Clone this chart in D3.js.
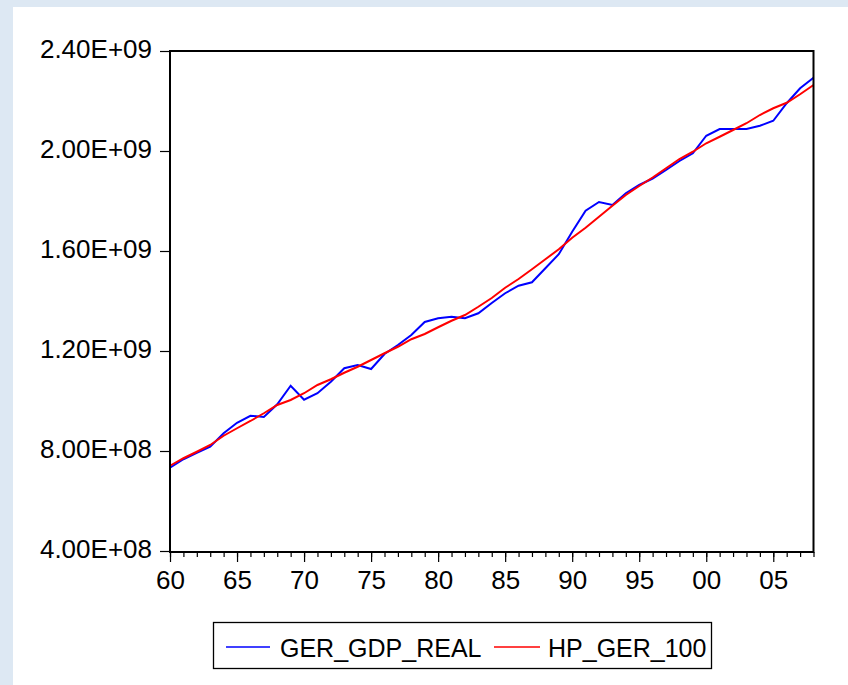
<!DOCTYPE html>
<html>
<head>
<meta charset="utf-8">
<script src="https://cdn.jsdelivr.net/npm/d3@7"></script>
<style>
  html, body { margin: 0; padding: 0; background: #dde8f3; }
  svg { display: block; }
  text { font-family: "Liberation Sans", Arial, sans-serif; fill: #000; }
</style>
</head>
<body>
<svg id="chart" width="848" height="685"></svg>
<script>
const years = d3.range(1960, 2009);
const gdpReal = [
  7.33e8, 7.67e8, 7.93e8, 8.17e8, 8.71e8, 9.13e8, 9.41e8, 9.36e8, 9.87e8, 10.61e8,
  10.05e8, 10.31e8, 10.77e8, 11.31e8, 11.44e8, 11.28e8, 11.88e8, 12.24e8, 12.64e8, 13.16e8,
  13.31e8, 13.37e8, 13.31e8, 13.51e8, 13.92e8, 14.31e8, 14.61e8, 14.75e8, 15.31e8, 15.87e8,
  16.77e8, 17.61e8, 17.96e8, 17.84e8, 18.31e8, 18.64e8, 18.90e8, 19.24e8, 19.60e8, 19.91e8,
  20.61e8, 20.88e8, 20.88e8, 20.88e8, 21.01e8, 21.21e8, 21.91e8, 22.51e8, 22.93e8
];
const hpTrend = [
  7.41e8, 7.71e8, 7.97e8, 8.24e8, 8.61e8, 8.91e8, 9.20e8, 9.51e8, 9.84e8, 10.04e8,
  10.31e8, 10.64e8, 10.87e8, 11.13e8, 11.37e8, 11.64e8, 11.91e8, 12.17e8, 12.47e8, 12.68e8,
  12.95e8, 13.21e8, 13.44e8, 13.77e8, 14.12e8, 14.53e8, 14.88e8, 15.27e8, 15.67e8, 16.07e8,
  16.53e8, 16.93e8, 17.37e8, 17.81e8, 18.24e8, 18.60e8, 18.94e8, 19.31e8, 19.68e8, 19.97e8,
  20.31e8, 20.57e8, 20.84e8, 21.11e8, 21.44e8, 21.71e8, 21.93e8, 22.27e8, 22.64e8
];
const yTicks = [4e8, 8e8, 12e8, 16e8, 20e8, 24e8];
const xMajorTicks = [1960, 1965, 1970, 1975, 1980, 1985, 1990, 1995, 2000, 2005];
const seriesNames = ["GER_GDP_REAL", "HP_GER_100"];
const seriesColors = ["#0000ff", "#ff0000"];

const FONT = '"Liberation Sans", Arial, sans-serif';
const svg = d3.select("#chart");
svg.append("rect").attr("x", 13).attr("y", 7).attr("width", 835).attr("height", 678).attr("fill", "#ffffff");

const L = 170, R = 813.5, T = 51, B = 552;
const x = d3.scaleLinear().domain([1960, 2008]).range([L, R]);
const y = d3.scaleLinear().domain([4e8, 24e8]).range([B - 1, T]);

function fmtE(v) {
  const e = Math.floor(Math.log10(v) + 1e-9);
  const m = v / Math.pow(10, e);
  return m.toFixed(2) + "E+" + String(e).padStart(2, "0");
}

const yAxis = svg.append("g").attr("transform", `translate(${L},0)`)
  .call(d3.axisLeft(y).tickValues(yTicks).tickSize(10).tickPadding(8).tickFormat(fmtE));
yAxis.attr("font-family", null).attr("font-size", null);
yAxis.select(".domain").remove();
yAxis.selectAll("line").attr("stroke", "#000").attr("stroke-width", 1.2);
yAxis.selectAll("text").attr("font-size", 26).attr("dy", "0.24em").style("font-family", FONT);

const xMinor = svg.append("g").attr("transform", `translate(0,${B})`)
  .call(d3.axisBottom(x).tickValues(years).tickSize(5).tickFormat(""));
xMinor.select(".domain").remove();
xMinor.selectAll("line").attr("stroke", "#000").attr("stroke-width", 1.2);

const xMajor = svg.append("g").attr("transform", `translate(0,${B})`)
  .call(d3.axisBottom(x).tickValues(xMajorTicks).tickSize(10).tickPadding(9)
    .tickFormat(d => String(d % 100).padStart(2, "0")));
xMajor.attr("font-family", null).attr("font-size", null);
xMajor.select(".domain").remove();
xMajor.selectAll("line").attr("stroke", "#000").attr("stroke-width", 1.2);
xMajor.selectAll("text").attr("font-size", 26).style("font-family", FONT);

const line = d3.line().x((d, i) => x(years[i])).y(d => y(d));
svg.append("path").datum(gdpReal).attr("d", line)
  .attr("fill", "none").attr("stroke", seriesColors[0]).attr("stroke-width", 2);
svg.append("path").datum(hpTrend).attr("d", line)
  .attr("fill", "none").attr("stroke", seriesColors[1]).attr("stroke-width", 2);

svg.append("rect").attr("x", L).attr("y", T).attr("width", R - L).attr("height", B - T)
  .attr("fill", "none").attr("stroke", "#000").attr("stroke-width", 2);

const lg = svg.append("g");
lg.append("rect").attr("x", 213.5).attr("y", 622.5).attr("width", 498).attr("height", 46)
  .attr("fill", "#fff").attr("stroke", "#000").attr("stroke-width", 1.3);
const legendItems = [
  { x1: 226, x2: 270, tx: 280 },
  { x1: 494, x2: 540, tx: 548 }
];
legendItems.forEach((it, i) => {
  lg.append("line").attr("x1", it.x1).attr("x2", it.x2).attr("y1", 647).attr("y2", 647)
    .attr("stroke", seriesColors[i]).attr("stroke-width", 1.5);
  lg.append("text").attr("x", it.tx).attr("y", 657).attr("font-size", 25).style("font-family", FONT).text(seriesNames[i]);
});
</script>
</body>
</html>
